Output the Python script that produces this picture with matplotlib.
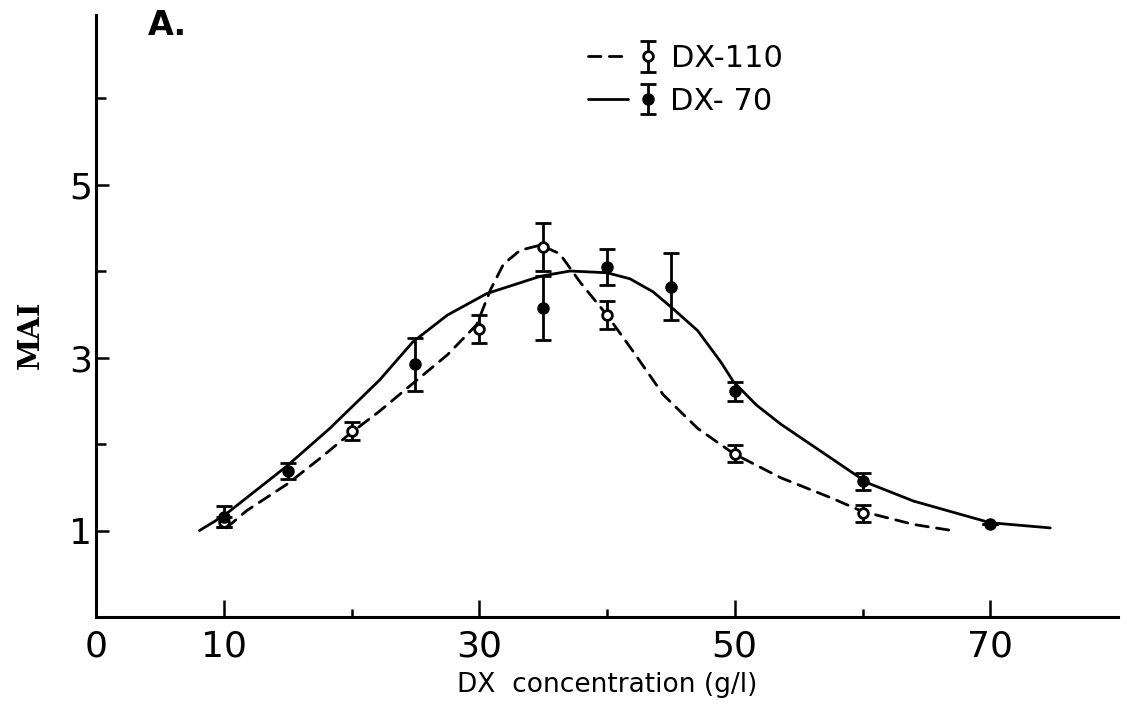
import matplotlib
matplotlib.use("Agg")
import matplotlib.pyplot as plt
from matplotlib.legend_handler import HandlerTuple
from matplotlib.ticker import FixedLocator

# ---- data ----
dx110_x = [10, 20, 30, 35, 40, 50, 60]
dx110_y = [1.10, 2.15, 3.33, 4.28, 3.49, 1.89, 1.20]
dx110_err = [0.06, 0.10, 0.16, 0.28, 0.16, 0.10, 0.10]

dx70_x = [10, 15, 25, 35, 40, 45, 50, 60, 70]
dx70_y = [1.16, 1.69, 2.92, 3.57, 4.05, 3.82, 2.61, 1.57, 1.08]
dx70_err = [0.12, 0.09, 0.31, 0.37, 0.21, 0.39, 0.11, 0.10, 0.0]

# hand-drawn fitted curves
fit110_x = [10.2, 11.8, 15, 17.5, 19.8, 22.2, 24.8, 27.5, 29.8, 30.9, 31.9, 33.2,
            34.8, 36.3, 37.9, 40, 42, 44.4, 47.1, 49.9, 53.6, 57.5, 60, 64, 67]
fit110_y = [1.03, 1.23, 1.54, 1.83, 2.11, 2.38, 2.70, 3.03, 3.38, 3.79, 4.08, 4.24,
            4.30, 4.20, 3.87, 3.49, 3.08, 2.57, 2.18, 1.89, 1.61, 1.38, 1.22, 1.07, 1.00]

fit70_x = [8.1, 10, 14.9, 18.3, 22.2, 24.8, 27.5, 30.6, 34.8, 37.1, 40, 41.8, 43.6,
           45.2, 47.1, 48.9, 49.9, 51.7, 53.6, 57.5, 60.4, 64, 70, 74.7]
fit70_y = [1.00, 1.17, 1.74, 2.18, 2.74, 3.18, 3.49, 3.74, 3.94, 4.00, 3.98, 3.91, 3.76,
           3.56, 3.31, 2.95, 2.72, 2.45, 2.23, 1.84, 1.55, 1.34, 1.09, 1.03]

x_major = [0, 10, 30, 50, 70]
x_major_labels = ["0", "10", "30", "50", "70"]
x_minor = [20, 40, 60]
y_major = [1, 3, 5]
y_major_labels = ["1", "3", "5"]
y_minor = [2, 4, 6]

series_labels = ["DX-110", "DX- 70"]

# ---- figure ----
FONT = ["Liberation Sans Narrow", "DejaVu Sans"]
plt.rcParams["font.family"] = FONT

W, H = 1127, 708
fig = plt.figure(figsize=(W / 100, H / 100), dpi=100)
ax = fig.add_axes([96 / W, 1 - 617 / H, (1118 - 96) / W, (617 - 15) / H])
ax.set_xlim(0, 80)
ax.set_ylim(0, 6.96)

lw = 2.0
dash_line, = ax.plot(fit110_x, fit110_y, color="black", lw=lw, ls=(0, (4.5, 3)),
                     solid_capstyle="round", dash_capstyle="round",
                     dash_joinstyle="round")
solid_line, = ax.plot(fit70_x, fit70_y, color="black", lw=lw, solid_joinstyle="round",
                      solid_capstyle="round")

e110 = ax.errorbar(dx110_x, dx110_y, yerr=dx110_err, fmt="o", color="black",
                   mfc="white", mec="black", mew=2, ms=7, elinewidth=2,
                   capsize=6, capthick=2, zorder=4)
e70 = ax.errorbar(dx70_x, dx70_y, yerr=dx70_err, fmt="o", color="black",
                  mfc="black", mec="black", ms=8, elinewidth=2,
                  capsize=6, capthick=2, zorder=4)

# spines
for s in ["top", "right"]:
    ax.spines[s].set_visible(False)
for s in ["left", "bottom"]:
    ax.spines[s].set_linewidth(2.2)

ax.xaxis.set_major_locator(FixedLocator(x_major))
ax.set_xticklabels(x_major_labels)
ax.xaxis.set_minor_locator(FixedLocator(x_minor))
ax.yaxis.set_major_locator(FixedLocator(y_major))
ax.set_yticklabels(y_major_labels)
ax.yaxis.set_minor_locator(FixedLocator(y_minor))

ax.tick_params(axis="x", which="major", direction="in", length=12, width=1.8,
               labelsize=26, pad=9)
ax.tick_params(axis="x", which="minor", direction="in", length=6, width=1.8)
ax.tick_params(axis="y", which="major", direction="in", length=9, width=1.8,
               labelsize=26, pad=3)
ax.tick_params(axis="y", which="minor", direction="in", length=7, width=1.8)
ax.xaxis.get_major_ticks()[0].tick1line.set_visible(False)

ax.set_xlabel("DX  concentration (g/l)", fontsize=19, labelpad=6)

fig.text(30 / W, 1 - 335 / H, "MAI", rotation=90, fontsize=21, fontweight="bold",
         family=["DejaVu Serif"], ha="center", va="center")

fig.text(148 / W, 1 - 35 / H, "A.", fontsize=24, fontweight="bold",
         ha="left", va="baseline")

leg = ax.legend([(dash_line, e110), (solid_line, e70)], series_labels,
                handler_map={tuple: HandlerTuple(ndivide=None)},
                loc="upper left", bbox_to_anchor=(588 / W, 1 - 44 / H),
                bbox_transform=fig.transFigure, frameon=False, fontsize=22,
                handlelength=2.6, handletextpad=0.1, labelspacing=0.45,
                borderpad=0, borderaxespad=0)

fig.savefig("out.png", dpi=100)
